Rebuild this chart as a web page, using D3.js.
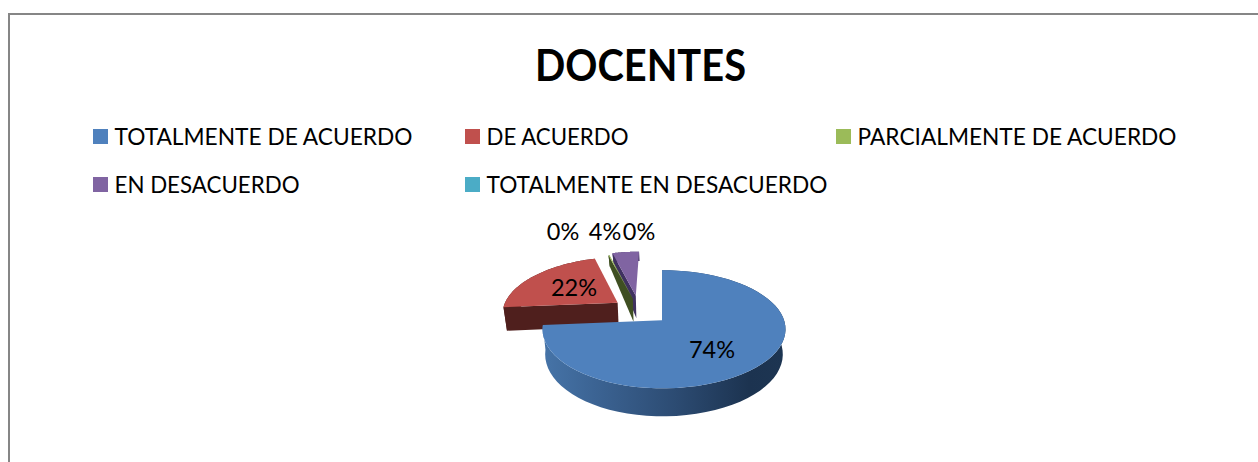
<!DOCTYPE html>
<html><head><meta charset="utf-8">
<style>html,body{margin:0;padding:0;background:#fff;overflow:hidden}svg{display:block}text{font-family:Lato,Carlito,sans-serif;fill:#000}</style>
<script src="https://cdn.jsdelivr.net/npm/d3@7"></script></head>
<body><script>
const title = "DOCENTES";
const categories = ["TOTALMENTE DE ACUERDO","DE ACUERDO","PARCIALMENTE DE ACUERDO","EN DESACUERDO","TOTALMENTE EN DESACUERDO"];
const values = [73.7, 21.7, 0.2, 4.4, 0];
const colors = ["#4f81bd","#c0504d","#9bbb59","#8064a2","#4bacc6"];
const wallColors = ["#2f4f78","#4f1f1d","#3f4f22","#3f3160","#2a6070"];

const W = 1258, H = 462;
const svg = d3.select("body").append("svg").attr("width",W).attr("height",H);
const defs = svg.append("defs");
const grad = defs.append("linearGradient").attr("id","blueWall");
[[0,"#4674a8"],[0.25,"#3a6190"],[0.55,"#2c4b72"],[0.85,"#1c3350"],[1,"#1d3552"]].forEach(s=>
  grad.append("stop").attr("offset",s[0]).attr("stop-color",s[1]));

svg.append("rect").attr("x",9).attr("y",14).attr("width",1300).attr("height",500)
  .attr("fill","#fff").attr("stroke","#868686").attr("stroke-width",2);

svg.append("text").attr("x",640.5).attr("y",81).attr("text-anchor","middle")
  .attr("font-size",43).attr("font-weight",700)
  .attr("textLength",211).attr("lengthAdjust","spacingAndGlyphs").text(title);

// legend
const legendCols = [93,465,836], legendRows = [129,177], legendTextWidths = [298,142,319,185,341];
const legend = svg.selectAll("g.leg").data(categories).join("g").attr("class","leg")
  .attr("transform",(d,i)=>`translate(${legendCols[i%3]},${legendRows[Math.floor(i/3)]})`);
legend.append("rect").attr("width",15).attr("height",15).attr("fill",(d,i)=>colors[i]);
legend.append("text").attr("x",21.5).attr("y",15.5).attr("font-size",23.2)
  .attr("textLength",(d,i)=>legendTextWidths[i]).attr("lengthAdjust","spacingAndGlyphs").text(d=>d);

// perspective projection of the disc
const ox = 662, oy = 320, Aright = 122, Aleft = 118, B = 57.6, k = -0.1525;
const proj = (u,v)=>{const w=1+k*v; return [ox+(u<0?Aleft:Aright)*u/w, oy+B*v/w];};
const depth = d3.scaleLinear().domain([-1.4,-0.4,1]).range([10,23,28]);
const projLow = (u,v)=>{const p=proj(u,v); return [ox+(p[0]-ox)*0.978, p[1]+depth(v)];};

const pie = d3.pie().sort(null).startAngle(0).endAngle(2*Math.PI).value(d=>d);
const arcs = pie(values).map((a,i)=>({...a,i}));
const explode = [0.272,0.235,0.22,0.27,0.25], cu = -0.2, cv = -0.18;
arcs.forEach(a=>{
  const m=(a.startAngle+a.endAngle)/2;
  a.au=cu+explode[a.i]*Math.sin(m);
  a.av=cv-explode[a.i]*Math.cos(m);
});
const at=(a,ang)=>[a.au+Math.sin(ang), a.av-Math.cos(ang)];
const line=d3.line();
const arcPts=(a)=>d3.range(0,65).map(j=>at(a,a.startAngle+(a.endAngle-a.startAngle)*j/64));

const order=[3,4,2,1,0];
const g=svg.append("g");
order.forEach(i=>{
  const a=arcs[i]; if(a.value<=0) return;
  const pts=arcPts(a), apex=[a.au,a.av];
  const top=pts.map(p=>proj(p[0],p[1])), low=pts.map(p=>projLow(p[0],p[1]));
  // outer wall
  g.append("path").attr("d",line(top.concat(low.slice().reverse()))+"Z")
    .attr("fill",i===0?"url(#blueWall)":wallColors[i]);
  // radial wall at the start edge
  const s=pts[0];
  if(i!==0) g.append("path").attr("d",line([proj(...apex),proj(...s),projLow(...s),projLow(...apex)])+"Z")
    .attr("fill",wallColors[i]);
  // top face
  g.append("path").attr("d",line([proj(...apex)].concat(top))+"Z").attr("fill",colors[i]);
});

// value labels
const fmt=v=>Math.round(v)+"%";
const labelX=[712,574,563,605,639], labelY=[358,296,240,240,240];
svg.selectAll("text.val").data(values).join("text").attr("class","val")
  .attr("x",(d,i)=>labelX[i]).attr("y",(d,i)=>labelY[i])
  .attr("text-anchor","middle").attr("font-size",23.5).text(fmt);
</script></body></html>
